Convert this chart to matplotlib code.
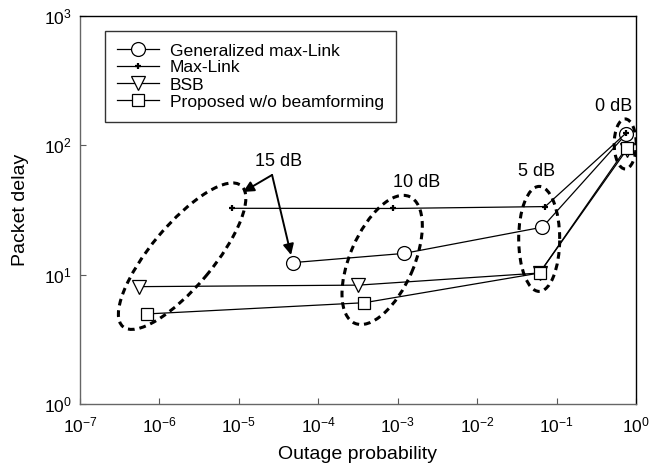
import matplotlib

matplotlib.use("Agg")
import matplotlib.pyplot as plt
from matplotlib.patches import Ellipse
from matplotlib.transforms import ScaledTranslation

plt.rcParams["font.family"] = ["Liberation Sans", "DejaVu Sans"]
plt.rcParams["mathtext.fontset"] = "custom"
plt.rcParams["mathtext.rm"] = "Liberation Sans"
plt.rcParams["mathtext.it"] = "Liberation Sans:italic"

# outage probability / packet delay, ordered 15 dB, 10 dB, 5 dB, 0 dB
outage_glink = [4.85e-5, 1.2e-3, 0.0665, 0.75]
delay_glink = [12.4, 14.6, 23.3, 122.0]
outage_maxlink = [8.1e-6, 8.7e-4, 0.0718, 0.746]
delay_maxlink = [32.6, 32.5, 33.6, 124.0]
outage_bsb = [5.6e-7, 3.2e-4, 0.061, 0.76]
delay_bsb = [8.08, 8.3, 10.3, 92.0]
outage_prop = [7.0e-7, 3.8e-4, 0.061, 0.76]
delay_prop = [4.97, 6.07, 10.3, 96.0]

x_ticks = [1e-7, 1e-6, 1e-5, 1e-4, 1e-3, 1e-2, 1e-1, 1e0]
x_tick_labels = [r"$\mathregular{10^{%d}}$" % e for e in range(-7, 1)]
y_ticks = [1e0, 1e1, 1e2, 1e3]
y_tick_labels = [r"$\mathregular{10^{%d}}$" % e for e in range(0, 4)]

snr_labels = ["15 dB", "10 dB", "5 dB", "0 dB"]

fig = plt.figure(figsize=(6.51, 4.76), dpi=100)
ax = fig.add_axes([80 / 651, 72 / 476, 556 / 651, 388 / 476])

line_kw = dict(color="black", lw=0.9, mfc="white", mec="black", mew=0.9)
ax.plot(outage_glink, delay_glink, marker="o", ms=10, label="Generalized max-Link", **line_kw)
ax.plot(outage_maxlink, delay_maxlink, marker="+", ms=5, label="Max-Link",
        color="black", lw=0.9, mew=1.6)
ax.plot(outage_bsb, delay_bsb, marker="v", ms=9.5, label="BSB", **line_kw)
ax.plot(outage_prop, delay_prop, marker="s", ms=8.5, label="Proposed w/o beamforming", **line_kw)

ax.set_xscale("log")
ax.set_yscale("log")
ax.set_xlim(1e-7, 1e0)
ax.set_ylim(1e0, 1e3)
ax.set_xticks(x_ticks)
ax.set_xticklabels(x_tick_labels)
ax.set_yticks(y_ticks)
ax.set_yticklabels(y_tick_labels)
ax.minorticks_off()
ax.tick_params(direction="in", length=4, width=0.8, labelsize=12.5, color="0.35", pad=8)
ax.tick_params(axis="y", pad=6)
for side in ["left", "bottom"]:
    ax.spines[side].set_color("0.4")
    ax.spines[side].set_linewidth(1.0)
for side in ["top", "right"]:
    ax.spines[side].set_color("black")
    ax.spines[side].set_linewidth(1.0)

ax.set_xlabel("Outage probability", fontsize=14, labelpad=8)
ax.set_ylabel("Packet delay", fontsize=14, labelpad=11)

# dashed ellipses around each SNR group (size in inches, centred in data coords)
ellipses = [
    ((1.93e-6, 13.9), 1.84, 0.62, 50),
    ((6.37e-4, 13.0), 1.38, 0.64, 66.6),
    ((0.0604, 18.9), 1.05, 0.41, 90),
    ((0.731, 102.5), 0.50, 0.22, 90),
]
for (cx, cy), w, h, ang in ellipses:
    e = Ellipse((0, 0), w, h, angle=ang, fill=False, ec="black", lw=2.2,
                linestyle=(0, (2.2, 1.6)),
                transform=fig.dpi_scale_trans + ScaledTranslation(cx, cy, ax.transData))
    ax.add_patch(e)

label_pos = [(3.2e-5, 74.4), (1.75e-3, 51.2), (0.0553, 62.3), (0.516, 198.0)]
for text, (lx, ly) in zip(snr_labels, label_pos):
    ax.text(lx, ly, text, fontsize=13, ha="center", va="center")

arrow_kw = dict(arrowstyle="-|>", color="black", lw=1.4, mutation_scale=16,
                shrinkA=0, shrinkB=0)
ax.annotate("", xy=(1.13e-5, 43.6), xytext=(2.62e-5, 59.0), arrowprops=arrow_kw)
ax.annotate("", xy=(4.54e-5, 14.2), xytext=(2.62e-5, 59.0), arrowprops=arrow_kw)

leg = ax.legend(loc="upper left", bbox_to_anchor=(25 / 556, 373 / 388), fontsize=12.6,
                frameon=True, fancybox=False, edgecolor="black", borderaxespad=0,
                handlelength=2.4, handletextpad=0.6, labelspacing=0.1,
                borderpad=0.7)
leg.get_frame().set_linewidth(1.0)

fig.savefig("out.png", dpi=100)
